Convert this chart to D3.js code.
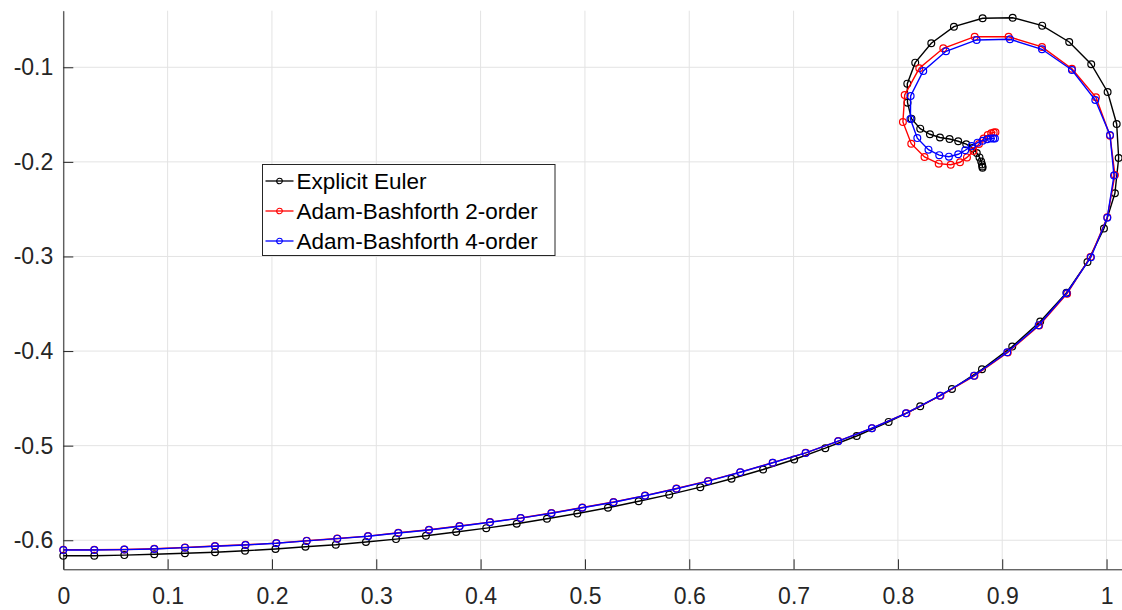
<!DOCTYPE html>
<html>
<head>
<meta charset="utf-8">
<script src="https://cdn.jsdelivr.net/npm/d3@7"></script>
<style>
  body { margin: 0; background: #fff; }
  svg { display: block; font-family: "Liberation Sans", Arial, Helvetica, sans-serif; }
</style>
</head>
<body>
<script>
// values
var seriesNames = ["Explicit Euler", "Adam-Bashforth 2-order", "Adam-Bashforth 4-order"]
var seriesColors = ["#000000", "#ff0000", "#0000ff"]

var eulerX = [0, 0.0297, 0.0585, 0.0872, 0.1166, 0.1454, 0.1742, 0.2034, 0.2321, 0.2612,
  0.2901, 0.3189, 0.3476, 0.3766, 0.4054, 0.4346, 0.4636, 0.4927, 0.5221, 0.5515,
  0.5808, 0.6106, 0.6405, 0.6708, 0.7006, 0.7304, 0.7605, 0.7911, 0.8214, 0.8518,
  0.8806, 0.9096, 0.9364, 0.9616, 0.9817, 0.9975, 1.0080, 1.0116, 1.0097, 1.0010,
  0.9853, 0.9642, 0.9383, 0.9100, 0.8812, 0.8537, 0.8320, 0.8166, 0.8090, 0.8092,
  0.8130, 0.8214, 0.8307, 0.8403, 0.8495, 0.8578, 0.8655, 0.8715, 0.8756, 0.8782,
  0.8798, 0.8806, 0.8810, 0.8811]
var eulerY = [-0.6163, -0.6163, -0.6157, -0.6148, -0.6137, -0.6126, -0.6111, -0.6092, -0.6069, -0.6047,
  -0.6018, -0.5988, -0.5952, -0.5912, -0.5872, -0.5825, -0.5773, -0.5717, -0.5656, -0.5588,
  -0.5518, -0.5439, -0.5350, -0.5252, -0.5146, -0.5027, -0.4898, -0.4749, -0.4584, -0.4401,
  -0.4192, -0.3953, -0.3687, -0.3383, -0.3058, -0.2704, -0.2332, -0.1959, -0.1599, -0.1261,
  -0.0968, -0.0733, -0.0560, -0.0476, -0.0482, -0.0571, -0.0746, -0.0951, -0.1173, -0.1374,
  -0.1543, -0.1649, -0.1708, -0.1742, -0.1758, -0.1782, -0.1813, -0.1853, -0.1906, -0.1953,
  -0.1996, -0.2027, -0.2049, -0.2061]

var ab2X = [0, 0.0297, 0.0585, 0.0872, 0.1166, 0.1454, 0.1746, 0.2042, 0.2333, 0.2626,
  0.2921, 0.3211, 0.3505, 0.3798, 0.4090, 0.4384, 0.4679, 0.4975, 0.5274, 0.5576,
  0.5877, 0.6181, 0.6489, 0.6800, 0.7116, 0.7428, 0.7751, 0.8082, 0.8408, 0.8734,
  0.9053, 0.9354, 0.9622, 0.9846, 1.0007, 1.0080, 1.0033, 0.9898, 0.9668, 0.9381,
  0.9061, 0.8736, 0.8435, 0.8205, 0.8065, 0.8048, 0.8128, 0.8255, 0.8391, 0.8506,
  0.8595, 0.8662, 0.8724, 0.8777, 0.8822, 0.8861, 0.8894, 0.8918, 0.8935]
var ab2Y = [-0.6101, -0.6101, -0.6097, -0.6090, -0.6076, -0.6061, -0.6048, -0.6030, -0.6005, -0.5981,
  -0.5956, -0.5921, -0.5889, -0.5850, -0.5808, -0.5764, -0.5712, -0.5654, -0.5596, -0.5528,
  -0.5453, -0.5373, -0.5280, -0.5180, -0.5076, -0.4952, -0.4815, -0.4657, -0.4472, -0.4262,
  -0.4015, -0.3730, -0.3393, -0.3005, -0.2586, -0.2138, -0.1723, -0.1317, -0.1015, -0.0785,
  -0.0677, -0.0677, -0.0799, -0.1011, -0.1293, -0.1578, -0.1808, -0.1948, -0.2019, -0.2030,
  -0.2004, -0.1953, -0.1885, -0.1811, -0.1753, -0.1716, -0.1697, -0.1689, -0.1687]

var ab4X = [0, 0.0297, 0.0585, 0.0872, 0.1166, 0.1454, 0.1746, 0.2042, 0.2333, 0.2626,
  0.2921, 0.3211, 0.3505, 0.3798, 0.4090, 0.4384, 0.4679, 0.4975, 0.5274, 0.5576,
  0.5877, 0.6181, 0.6489, 0.6800, 0.7116, 0.7428, 0.7751, 0.8077, 0.8403, 0.8729,
  0.9048, 0.9349, 0.9617, 0.9850, 1.0007, 1.0071, 1.0033, 0.9892, 0.9668, 0.9381,
  0.9074, 0.8755, 0.8461, 0.8243, 0.8122, 0.8120, 0.8186, 0.8293, 0.8396, 0.8489,
  0.8578, 0.8645, 0.8707, 0.8763, 0.8812, 0.8855, 0.8890, 0.8914, 0.8930]
var ab4Y = [-0.6103, -0.6103, -0.6099, -0.6092, -0.6078, -0.6063, -0.6050, -0.6032, -0.6007, -0.5983,
  -0.5958, -0.5923, -0.5891, -0.5852, -0.5810, -0.5766, -0.5714, -0.5656, -0.5598, -0.5530,
  -0.5455, -0.5375, -0.5281, -0.5181, -0.5077, -0.4953, -0.4816, -0.4658, -0.4472, -0.4260,
  -0.4012, -0.3726, -0.3389, -0.3008, -0.2590, -0.2144, -0.1716, -0.1346, -0.1029, -0.0810,
  -0.0704, -0.0711, -0.0831, -0.1039, -0.1303, -0.1547, -0.1749, -0.1871, -0.1929, -0.1945,
  -0.1920, -0.1877, -0.1832, -0.1797, -0.1776, -0.1761, -0.1753, -0.1753, -0.1753]

var xTicks = [0, 0.1, 0.2, 0.3, 0.4, 0.5, 0.6, 0.7, 0.8, 0.9, 1]
var yTicks = [-0.6, -0.5, -0.4, -0.3, -0.2, -0.1]
var xTickLabels = ["0", "0.1", "0.2", "0.3", "0.4", "0.5", "0.6", "0.7", "0.8", "0.9", "1"]
var yTickLabels = ["-0.6", "-0.5", "-0.4", "-0.3", "-0.2", "-0.1"]

const svgWidth = 1122
const svgHeight = 610
const margin = {top: 10.7, right: 0, bottom: 40.7, left: 63.3}

var xScale = d3.scaleLinear()
  .domain([0, 1.0148])
  .range([margin.left, svgWidth - margin.right])

var yScale = d3.scaleLinear()
  .domain([-0.6307, -0.0402])
  .range([svgHeight - margin.bottom, margin.top])

var svg = d3.select("body")
  .append("svg")
    .attr("width", svgWidth)
    .attr("height", svgHeight)

// grid
var grid = svg.append("g").attr("class", "grid")
grid.selectAll(".vgrid")
  .data(xTicks)
  .enter().append("line")
    .attr("x1", function(d) { return xScale(d) })
    .attr("x2", function(d) { return xScale(d) })
    .attr("y1", yScale.range()[0])
    .attr("y2", yScale.range()[1])
    .attr("stroke", "#e3e3e3")
    .attr("stroke-width", 1)
grid.selectAll(".hgrid")
  .data(yTicks)
  .enter().append("line")
    .attr("x1", xScale.range()[0])
    .attr("x2", xScale.range()[1])
    .attr("y1", function(d) { return yScale(d) })
    .attr("y2", function(d) { return yScale(d) })
    .attr("stroke", "#e3e3e3")
    .attr("stroke-width", 1)

// axes, ticks point inwards like matlab
var xAxis = d3.axisBottom(xScale)
  .tickValues(xTicks)
  .tickFormat(function(d, i) { return xTickLabels[i] })
  .tickSizeInner(-10)
  .tickSizeOuter(0)
  .tickPadding(18)

var yAxis = d3.axisLeft(yScale)
  .tickValues(yTicks)
  .tickFormat(function(d, i) { return yTickLabels[i] })
  .tickSizeInner(-10)
  .tickSizeOuter(0)
  .tickPadding(10)

function styleAxis(g) {
  g.select(".domain").attr("stroke", "#262626").attr("stroke-width", 1)
  g.selectAll(".tick line").attr("stroke", "#262626").attr("stroke-width", 1)
  g.selectAll(".tick text")
    .attr("fill", "#262626")
    .style("font-size", "23px")
    .style("font-family", "'Liberation Sans', Arial, Helvetica, sans-serif")
}

svg.append("g")
  .attr("id", "x-axis")
  .attr("transform", "translate(0," + yScale.range()[0] + ")")
  .call(xAxis)
  .call(styleAxis)

svg.append("g")
  .attr("id", "y-axis")
  .attr("transform", "translate(" + xScale.range()[0] + ",0)")
  .call(yAxis)
  .call(styleAxis)

// series
var series = [
  {name: seriesNames[0], color: seriesColors[0], xs: eulerX, ys: eulerY},
  {name: seriesNames[1], color: seriesColors[1], xs: ab2X, ys: ab2Y},
  {name: seriesNames[2], color: seriesColors[2], xs: ab4X, ys: ab4Y}
]

var line = d3.line()
  .x(function(d) { return xScale(d[0]) })
  .y(function(d) { return yScale(d[1]) })

series.forEach(function(s) {
  var pts = s.xs.map(function(x, i) { return [x, s.ys[i]] })
  var g = svg.append("g").attr("class", "series")
  g.append("path")
    .datum(pts)
    .attr("d", line)
    .attr("fill", "none")
    .attr("stroke", s.color)
    .attr("stroke-width", 1.4)
  g.selectAll("circle")
    .data(pts)
    .enter().append("circle")
      .attr("cx", function(d) { return xScale(d[0]) })
      .attr("cy", function(d) { return yScale(d[1]) })
      .attr("r", 3.4)
      .attr("fill", "none")
      .attr("stroke", s.color)
      .attr("stroke-width", 1.2)
})

// legend
var legend = svg.append("g").attr("class", "legend")
  .attr("transform", "translate(262.5,164.5)")

legend.append("rect")
  .attr("width", 292.5)
  .attr("height", 91)
  .attr("fill", "#fff")
  .attr("stroke", "#262626")
  .attr("stroke-width", 1)

var item = legend.selectAll(".item")
  .data(series)
  .enter().append("g")
    .attr("class", "item")
    .attr("transform", function(d, i) { return "translate(0," + (16.5 + i * 30) + ")" })

item.append("line")
  .attr("x1", 3)
  .attr("x2", 31)
  .attr("stroke", function(d) { return d.color })
  .attr("stroke-width", 1.3)

item.append("circle")
  .attr("cx", 17)
  .attr("r", 2.8)
  .attr("fill", "none")
  .attr("stroke", function(d) { return d.color })
  .attr("stroke-width", 1.1)

item.append("text")
  .attr("x", 34)
  .attr("dy", "0.35em")
  .style("font-size", "22.5px")
  .attr("fill", "#000")
  .text(function(d) { return d.name })
</script>
</body>
</html>
